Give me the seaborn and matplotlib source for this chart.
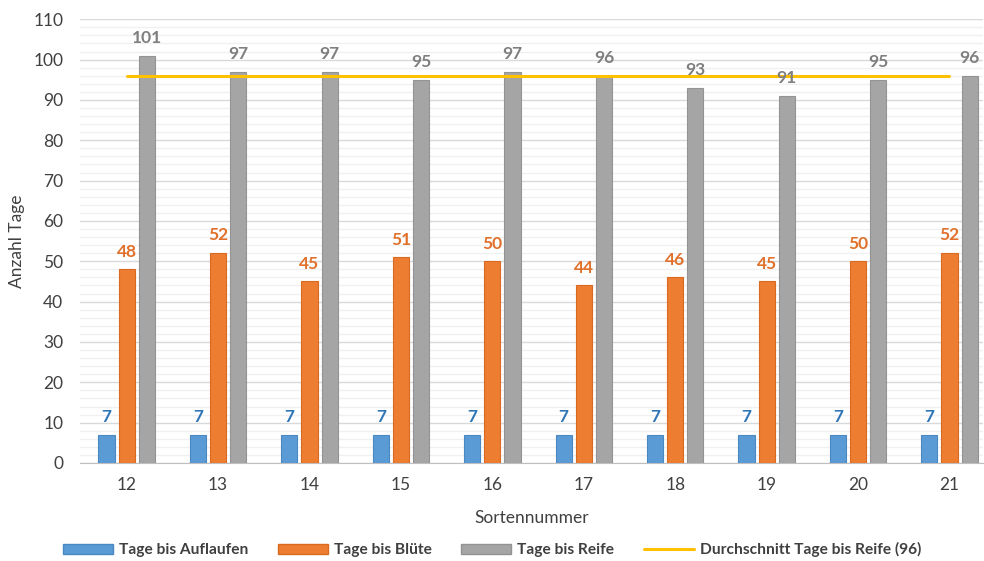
import numpy as np
import pandas as pd
import matplotlib
matplotlib.use('Agg')
import matplotlib.pyplot as plt
import seaborn as sns
from matplotlib.patches import Patch
from matplotlib.lines import Line2D
from matplotlib.ticker import MultipleLocator

# Daten
sorten = ['12', '13', '14', '15', '16', '17', '18', '19', '20', '21']
auflaufen = [7, 7, 7, 7, 7, 7, 7, 7, 7, 7]
bluete = [48, 52, 45, 51, 50, 44, 46, 45, 50, 52]
reife = [101, 97, 97, 95, 97, 96, 93, 91, 95, 96]
serien = ['Tage bis Auflaufen', 'Tage bis Blüte', 'Tage bis Reife']

bar_colors = ['#5B9BD5', '#ED7D31', '#A5A5A5']
edge_colors = ['#4A88C2', '#D96A20', '#939393']
label_colors = ['#2E75B6', '#E0702A', '#7F7F7F']
line_color = '#FFC000'

df = pd.DataFrame({
    'Sorte': sorten * 3,
    'Tage': auflaufen + bluete + reife,
    'Serie': [s for s in serien for _ in sorten],
})
schnitt = round(np.mean(reife))

sns.set_style('white')
plt.rcParams['font.family'] = ['Lato', 'DejaVu Sans']

fig = plt.figure(figsize=(9.84, 5.61), dpi=100)
ax = fig.add_axes([0.0813, 0.1747, 0.918, 0.791])

ax.yaxis.set_major_locator(MultipleLocator(10))
ax.yaxis.set_minor_locator(MultipleLocator(2))
ax.grid(which='minor', axis='y', color='#F0F0F0', lw=1.0, zorder=0)
ax.grid(which='major', axis='y', color='#D9D9D9', lw=1.0, zorder=0)
ax.set_axisbelow(True)

sns.barplot(data=df, x='Sorte', y='Tage', hue='Serie', palette=bar_colors,
            saturation=1, width=0.66, gap=0.2, ax=ax, legend=False, zorder=3)

for i, cont in enumerate(ax.containers):
    for bar in cont:
        bar.set_edgecolor(edge_colors[i])
        bar.set_linewidth(0.8)
    labels = ax.bar_label(cont, padding=7, color=label_colors[i], fontsize=12.5,
                          fontweight='bold')
    for t in labels:
        t.set_zorder(6)

ax.plot(np.arange(len(sorten)), [schnitt] * len(sorten), color=line_color,
        lw=2.2, zorder=4)

ax.set_xlim(-0.51, 9.37)
ax.set_ylim(0, 110)
ax.set_xlabel('Sortennummer', fontsize=12.5, color='#404040', labelpad=12)
ax.set_ylabel('Anzahl Tage', fontsize=12.5, color='#404040', labelpad=6)
ax.tick_params(axis='both', which='both', length=0, labelsize=12.5,
               colors='#404040')
ax.tick_params(axis='x', pad=10)
ax.tick_params(axis='y', pad=12)

for side in ['top', 'right', 'left']:
    ax.spines[side].set_visible(False)
ax.spines['bottom'].set_color('#BFBFBF')

handles = [Patch(facecolor=bar_colors[i], edgecolor=edge_colors[i], label=serien[i])
           for i in range(3)]
handles.append(Line2D([0], [0], color=line_color, lw=2.2,
                      label=f'Durchschnitt Tage bis Reife ({schnitt})'))
leg = fig.legend(handles=handles, loc='center', bbox_to_anchor=(0.5, 0.02),
                 ncol=4, frameon=False, handlelength=3.2, handleheight=0.6,
                 columnspacing=1.9, handletextpad=0.4,
                 prop={'weight': 'bold', 'size': 11.2})
for t in leg.get_texts():
    t.set_color('#404040')

fig.savefig('out.png', dpi=100)
